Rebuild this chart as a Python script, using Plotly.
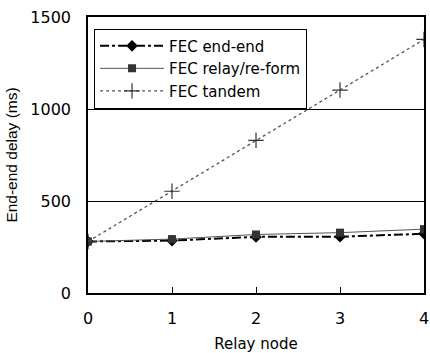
import plotly.graph_objects as go

relay_nodes = [0, 1, 2, 3, 4]
fec_end_end = [280, 285, 305, 306, 322]
fec_relay = [280, 293, 318, 328, 347]
fec_tandem = [280, 553, 830, 1103, 1378]

y_ticks = [0, 500, 1000, 1500]
x_ticks = [0, 1, 2, 3, 4]

fam = "DejaVu Sans"
font = dict(family=fam, size=14, color="black")

fig = go.Figure()
fig.add_trace(go.Scatter(
    x=relay_nodes, y=fec_end_end, name="FEC end-end", mode="lines+markers",
    line=dict(color="black", width=2, dash="dashdot"),
    marker=dict(symbol="diamond", size=9, color="black")))
fig.add_trace(go.Scatter(
    x=relay_nodes, y=fec_relay, name="FEC relay/re-form", mode="lines+markers",
    line=dict(color="#555555", width=1),
    marker=dict(symbol="square", size=8, color="#333333")))
fig.add_trace(go.Scatter(
    x=relay_nodes, y=fec_tandem, name="FEC tandem", mode="lines+markers",
    line=dict(color="#555555", width=1.3, dash="dot"),
    marker=dict(symbol="cross-thin", size=11, color="#333333",
                line=dict(color="#333333", width=1.2))))

fig.update_layout(
    width=430, height=353,
    margin=dict(l=88, r=1, t=17, b=60),
    paper_bgcolor="white", plot_bgcolor="white",
    font=font,
    showlegend=True,
    legend=dict(x=0.018, y=0.958, xanchor="left", yanchor="top",
                bordercolor="black", borderwidth=1, bgcolor="white",
                font=dict(family=fam, size=15, color="black"),
                itemwidth=64, tracegroupgap=0),
    xaxis=dict(range=[0, 4], tickvals=x_ticks, ticks="inside", ticklen=6,
               tickcolor="black", showline=True, linecolor="black", linewidth=1.5,
               mirror=True, showgrid=False, zeroline=False,
               ticklabeloverflow="allow", ticklabelstandoff=10,
               title=dict(text="Relay node", standoff=14,
                          font=dict(family=fam, size=15)),
               tickfont=dict(family=fam, size=16)),
    yaxis=dict(range=[0, 1500], tickvals=y_ticks, ticks="", showline=True,
               linecolor="black", linewidth=1.5, mirror=True,
               showgrid=True, gridcolor="black", gridwidth=1, zeroline=False,
               ticklabelstandoff=12,
               title=dict(text="End-end delay (ms)", standoff=9,
                          font=dict(family="Liberation Sans", size=15.5)),
               tickfont=dict(family=fam, size=16)),
)

fig.write_html("out.html")
